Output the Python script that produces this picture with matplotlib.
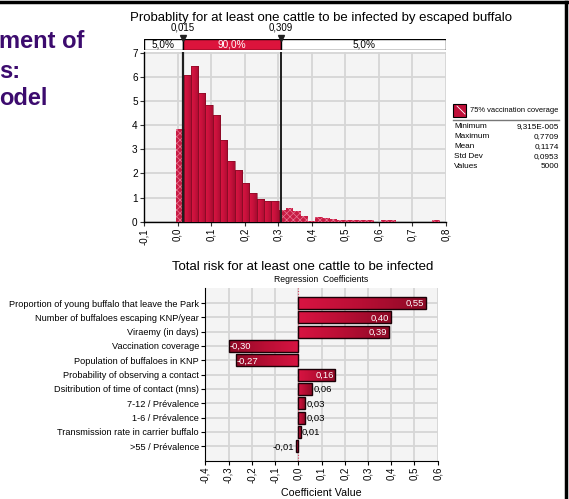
import numpy as np
import matplotlib
matplotlib.use("Agg")
import matplotlib.pyplot as plt
from matplotlib.patches import Rectangle
from matplotlib.lines import Line2D
from matplotlib.colors import LinearSegmentedColormap

plt.rcParams['font.family'] = ['Liberation Sans', 'DejaVu Sans']
plt.rcParams['hatch.linewidth'] = 0.5

# --- histogram (density) ---
bin_start = -0.004
bin_width = 0.0218
densities = [3.86, 6.07, 6.47, 5.35, 4.85, 4.44, 3.37, 2.53, 2.16, 1.60, 1.18,
             0.94, 0.87, 0.87, 0.47, 0.57, 0.46, 0.25, 0.04, 0.20, 0.14, 0.10,
             0.05, 0.05, 0.05, 0.05, 0.05, 0.0, 0.05, 0.05, 0.0, 0.0, 0.0, 0.0,
             0.0, 0.05]
p5 = 0.015
p95 = 0.309
stat_names = ["Minimum", "Maximum", "Mean", "Std Dev", "Values"]
stat_values = ["9,315E-005", "0,7709", "0,1174", "0,0953", "5000"]
hist_xticks = [-0.1, 0.0, 0.1, 0.2, 0.3, 0.4, 0.5, 0.6, 0.7, 0.8]

# --- regression coefficients ---
factors = ["Proportion of young buffalo that leave the Park",
           "Number of buffaloes escaping KNP/year",
           "Viraemy (in days)",
           "Vaccination coverage",
           "Population of buffaloes in KNP",
           "Probability of observing a contact",
           "Dsitribution of time of contact (mns)",
           "7-12 / Prévalence",
           "1-6 / Prévalence",
           "Transmission rate in carrier buffalo",
           ">55 / Prévalence"]
coefs = [0.55, 0.40, 0.39, -0.30, -0.27, 0.16, 0.06, 0.03, 0.03, 0.01, -0.01]
coef_xticks = [-0.4, -0.3, -0.2, -0.1, 0.0, 0.1, 0.2, 0.3, 0.4, 0.5, 0.6]

W, H = 569, 499
fig = plt.figure(figsize=(W / 100, H / 100), dpi=100)


def fx(x):
    return x / W


def fy(y):
    return 1 - y / H


def comma(v, nd):
    return f"{v:.{nd}f}".replace(".", ",")


red_grad = LinearSegmentedColormap.from_list("rg", ["#DA1642", "#C8113C", "#A80C30"])
bar_grad = LinearSegmentedColormap.from_list("bg", ["#D81442", "#B80E34", "#8E0A26"])
bg = "#F4F4F4"
gridc = "#D6D6D6"


def grad_fill(ax, patch, z, cmap):
    x, y = patch.get_x(), patch.get_y()
    w, h = patch.get_width(), patch.get_height()
    im = ax.imshow(np.linspace(0, 1, 64).reshape(1, -1), extent=[x, x + w, y, y + h],
                   cmap=cmap, aspect='auto', zorder=z, interpolation='bilinear')
    im.set_clip_path(patch)


# left slide text (cut off)
purple = "#3C0B6E"
fig.text(fx(-1), fy(48), "ment of", fontsize=17, fontweight='bold', color=purple, va='baseline')
fig.text(fx(-1), fy(78), "s:", fontsize=17, fontweight='bold', color=purple, va='baseline')
fig.text(fx(-1), fy(105), "odel", fontsize=17, fontweight='bold', color=purple, va='baseline')

# frame lines
fig.add_artist(Line2D([0, 1], [fy(1.5), fy(1.5)], color='black', lw=2.5, transform=fig.transFigure))
fig.add_artist(Line2D([fx(566), fx(566)], [fy(1.5), 0], color='black', lw=2.5, transform=fig.transFigure))

# ---------------- top histogram ----------------
ax1 = fig.add_axes([fx(144), fy(221.7), fx(446) - fx(144), fy(51.7) - fy(221.7)])
ax1.set_facecolor(bg)
for i, d in enumerate(densities):
    if d <= 0:
        continue
    left = bin_start + i * bin_width
    right = left + bin_width
    # solid part inside the 90% interval
    a, b = max(left, p5), min(right, p95)
    if b > a:
        bars = ax1.bar([a], [d], width=b - a, align='edge', facecolor='none',
                       edgecolor='#7A0A20', linewidth=0.4, zorder=4)
        grad_fill(ax1, bars[0], 3, red_grad)
    # hatched parts outside
    for a, b in [(left, min(right, p5)), (max(left, p95), right)]:
        if b > a:
            ax1.bar([a], [d], width=b - a, align='edge', facecolor='#C81C44',
                    edgecolor='#E87894', linewidth=0, hatch='xxxxx', zorder=3)
ax1.axvline(p5, color='#1E1E1E', lw=1.6, zorder=6)
ax1.axvline(p95, color='#1E1E1E', lw=1.4, zorder=6)
ax1.set_xlim(-0.1, 0.8)
ax1.set_ylim(0, 7.05)
ax1.set_xticks(hist_xticks)
ax1.set_xticklabels([comma(t, 1) for t in hist_xticks], rotation=90, fontsize=7)
ax1.set_yticks(range(0, 8))
ax1.set_yticklabels([str(t) for t in range(0, 8)], fontsize=7.2)
ax1.tick_params(length=3, width=0.8, pad=1.5, colors='#333333', labelcolor='black')
ax1.grid(True, color=gridc, lw=1.3, zorder=0)
ax1.set_axisbelow(True)
for s in ['top', 'right']:
    ax1.spines[s].set_visible(False)
for s in ['left', 'bottom']:
    ax1.spines[s].set_linewidth(1.0)

# percentile box above
axb = fig.add_axes([fx(144), fy(50), fx(446) - fx(144), fy(38.5) - fy(50)])
axb.set_xlim(-0.1, 0.8)
axb.set_ylim(0, 1)
axb.add_patch(Rectangle((-0.1, 0), p5 + 0.1, 1, facecolor='white', edgecolor='black', lw=1))
axb.add_patch(Rectangle((p5, 0), p95 - p5, 1, facecolor='#DC143C', edgecolor='black', lw=1))
axb.add_patch(Rectangle((p95, 0), 0.8 - p95, 1, facecolor='white', edgecolor='black', lw=1))
axb.text((-0.1 + p5) / 2, 0.45, "5,0%", ha='center', va='center', fontsize=7.2)
axb.text((p5 + p95) / 2, 0.45, "90,0%", ha='center', va='center', fontsize=7.2, color='white')
axb.text((p95 + 0.8) / 2, 0.45, "5,0%", ha='center', va='center', fontsize=7.2)
axb.plot([p5, p95], [1.05, 1.05], linestyle='none', marker='v', ms=5, color='#222222', clip_on=False)
axb.text(p5, 1.55, comma(p5, 3), ha='center', va='bottom', fontsize=7)
axb.text(p95, 1.55, comma(p95, 3), ha='center', va='bottom', fontsize=7)
axb.axis('off')

fig.text(fx(130), fy(20.5), "Probablity for at least one cattle to be infected by escaped buffalo",
         fontsize=9.5, va='baseline')

# legend / stats panel
fig.add_artist(Rectangle((fx(453), fy(117)), fx(13), fy(104) - fy(117), facecolor='#C0103A',
                         edgecolor='black', lw=0.8, transform=fig.transFigure))
fig.add_artist(Line2D([fx(457), fx(465)], [fy(106), fy(114)], color='white', lw=0.6,
                      transform=fig.transFigure))
fig.text(fx(470), fy(110.5), "75% vaccination coverage", fontsize=5.4, va='center')
fig.add_artist(Line2D([fx(453), fx(559)], [fy(120), fy(120)], color='#777777', lw=1,
                      transform=fig.transFigure))
for k, (n, v) in enumerate(zip(stat_names, stat_values)):
    yy = fy(127 + k * 9.8)
    fig.text(fx(454), yy, n, fontsize=5.9, va='center')
    fig.text(fx(559), yy, v, fontsize=5.9, va='center', ha='right')

# ---------------- tornado ----------------
ax2 = fig.add_axes([fx(205.3), fy(460.5), fx(437.7) - fx(205.3), fy(288) - fy(460.5)])
ax2.set_facecolor(bg)
ypos = np.arange(len(factors))
bars = ax2.barh(ypos, coefs, height=0.84, facecolor='none', edgecolor='#1A0006',
                linewidth=1.0, zorder=4)
for p in bars:
    grad_fill(ax2, p, 3, bar_grad)
for y, v in zip(ypos, coefs):
    if abs(v) >= 0.15:
        if v > 0:
            ax2.text(v - 0.008, y + 0.05, comma(v, 2), ha='right', va='center',
                     fontsize=6.8, color='white', zorder=5)
        else:
            ax2.text(v + 0.006, y + 0.05, comma(v, 2), ha='left', va='center',
                     fontsize=6.8, color='white', zorder=5)
    else:
        if v >= 0:
            ax2.text(v + 0.006, y + 0.05, comma(v, 2), ha='left', va='center',
                     fontsize=6.8, zorder=5)
        else:
            ax2.text(v - 0.008, y + 0.05, comma(v, 2), ha='right', va='center',
                     fontsize=6.8, zorder=5)
ax2.axvline(0, color='#E04060', lw=0.8, linestyle=(0, (1, 1.5)), zorder=2)
ax2.set_xlim(-0.4, 0.6)
ax2.set_ylim(len(factors) - 1 + 1.0, -1.05)
ax2.set_yticks(ypos)
ax2.set_yticklabels(factors, fontsize=6.6)
ax2.set_xticks(coef_xticks)
ax2.set_xticklabels([comma(t, 1) for t in coef_xticks], rotation=90, fontsize=7)
ax2.tick_params(length=3, width=0.8, pad=1.5)
ax2.grid(True, color=gridc, lw=1.3, zorder=0)
ax2.set_axisbelow(True)
for s in ['top', 'right']:
    ax2.spines[s].set_visible(False)
ax2.set_xlabel("Coefficient Value", fontsize=7.7, labelpad=3)

fig.text(fx(172), fy(270), "Total risk for at least one cattle to be infected", fontsize=9.5,
         va='baseline')
fig.text(fx(321), fy(280), "Regression  Coefficients", fontsize=6.2, ha='center', va='center')

fig.savefig("out.png", dpi=100)
